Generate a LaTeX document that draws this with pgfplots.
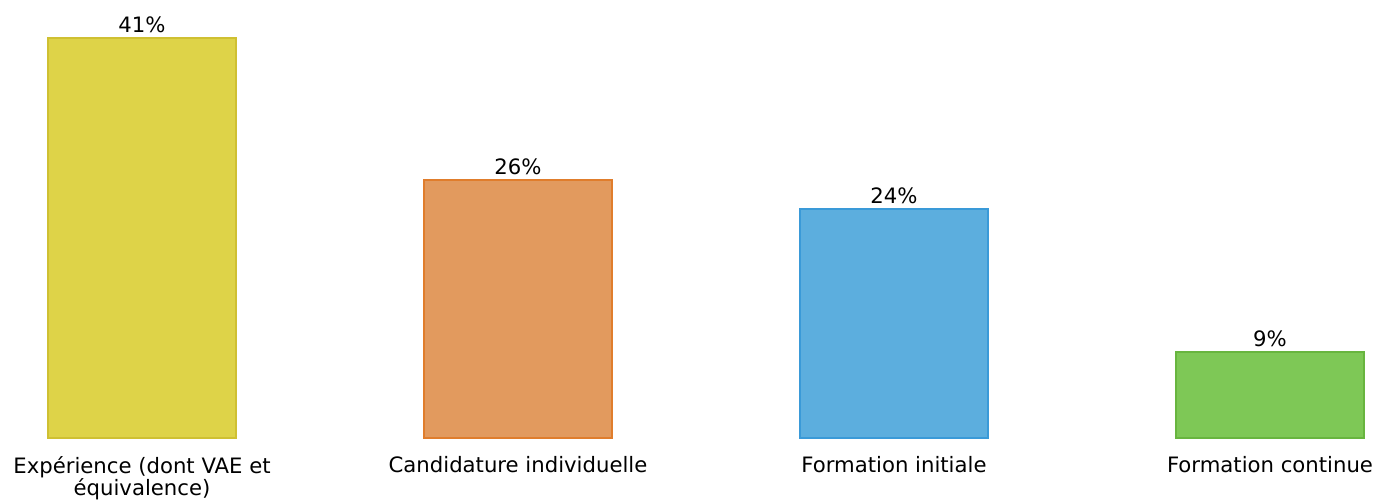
\documentclass[border=0pt]{standalone}
\usepackage{pgfplots}
\pgfplotsset{compat=1.18}
\usepackage{fontspec}
\setmainfont{DejaVu Sans}

\definecolor{jaune}{RGB}{222,211,72}
\definecolor{jauneb}{RGB}{207,192,50}
\definecolor{orange}{RGB}{226,154,94}
\definecolor{orangeb}{RGB}{224,125,44}
\definecolor{bleu}{RGB}{92,174,222}
\definecolor{bleub}{RGB}{58,154,216}
\definecolor{vert}{RGB}{126,200,86}
\definecolor{vertb}{RGB}{104,181,63}

\begin{document}
\begin{tikzpicture}
\begin{axis}[
  width=688.5pt, height=219pt, scale only axis,
  xmin=-0.3777, xmax=3.2846, ymin=0, ymax=44.9,
  axis line style={draw=none}, tick style={draw=none},
  ytick=\empty,
  xtick={0,1,2,3},
  xticklabels={{Expérience (dont VAE et\\équivalence)},
    {Candidature individuelle}, {Formation initiale}, {Formation continue}},
  xticklabel style={align=center, font=\fontsize{10.6}{11}\selectfont, inner sep=0pt, yshift=-9pt},
  every axis plot/.append style={ybar, bar width=94pt, bar shift=0pt, line width=0.8pt},
  nodes near coords style={font=\fontsize{10.6}{12}\selectfont, anchor=south, inner sep=2pt},
  clip=false,
]
\addplot[fill=jaune, draw=jauneb, nodes near coords={41\%}] coordinates {(0,41)};
\addplot[fill=orange, draw=orangeb, nodes near coords={26\%}] coordinates {(1,26.45)};
\addplot[fill=bleu, draw=bleub, nodes near coords={24\%}] coordinates {(2,23.47)};
\addplot[fill=vert, draw=vertb, nodes near coords={9\%}] coordinates {(3,8.82)};
\end{axis}
\end{tikzpicture}
\end{document}
